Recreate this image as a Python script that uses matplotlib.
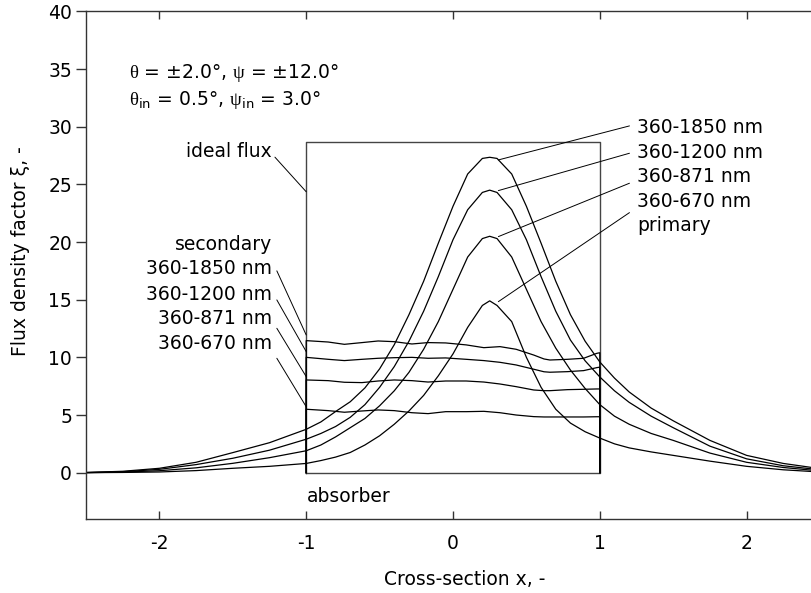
import matplotlib
matplotlib.use('Agg')
import matplotlib.pyplot as plt

# ---- data ----
x_primary = [-2.5, -2.25, -2.0, -1.75, -1.5, -1.25, -1.0, -0.9, -0.8, -0.7, -0.6, -0.5,
             -0.4, -0.3, -0.2, -0.1, 0.0, 0.1, 0.2, 0.25, 0.3, 0.4, 0.5, 0.6, 0.7, 0.8,
             0.9, 1.0, 1.1, 1.2, 1.35, 1.5, 1.75, 2.0, 2.25, 2.5]
primary_1850 = [0.02, 0.12, 0.38, 0.9, 1.74, 2.6, 3.76, 4.4, 5.3, 6.15, 7.35, 9.0,
                11.1, 13.7, 16.6, 19.9, 23.1, 25.9, 27.25, 27.35, 27.25, 25.9, 23.1, 19.9,
                16.6, 13.7, 11.4, 9.6, 8.2, 7.0, 5.6, 4.5, 2.8, 1.5, 0.8, 0.35]
primary_1200 = [0.01, 0.08, 0.29, 0.7, 1.25, 1.95, 2.9, 3.4, 4.0, 4.8, 5.9, 7.4,
                9.2, 11.4, 14.0, 17.0, 20.2, 22.8, 24.3, 24.5, 24.3, 22.8, 20.2, 17.0,
                14.0, 11.5, 9.7, 8.3, 7.1, 6.1, 4.9, 3.9, 2.3, 1.2, 0.6, 0.25]
primary_871 = [0.0, 0.05, 0.17, 0.42, 0.81, 1.3, 1.9, 2.4, 3.1, 3.9, 4.7, 5.8,
               7.1, 8.7, 10.7, 13.1, 15.9, 18.7, 20.3, 20.5, 20.3, 18.7, 15.9, 13.1,
               10.8, 8.9, 7.3, 5.9, 4.9, 4.2, 3.4, 2.8, 1.7, 0.9, 0.45, 0.15]
primary_670 = [0.0, 0.02, 0.06, 0.18, 0.38, 0.55, 0.8, 1.05, 1.35, 1.75, 2.4, 3.2,
               4.2, 5.35, 6.7, 8.4, 10.3, 12.6, 14.5, 14.9, 14.5, 13.1, 10.0, 7.4,
               5.5, 4.3, 3.55, 3.0, 2.5, 2.15, 1.8, 1.5, 1.0, 0.55, 0.25, 0.06]

x_secondary = [-1.0, -1.0, -0.85, -0.74, -0.62, -0.51, -0.4, -0.28, -0.17, -0.05, 0.09,
               0.21, 0.32, 0.43, 0.55, 0.62, 0.66, 0.78, 0.89, 0.98, 1.0, 1.0]
secondary_1850 = [0, 11.45, 11.33, 11.13, 11.28, 11.42, 11.36, 11.16, 11.28, 11.25, 11.08,
                  10.84, 10.93, 10.7, 10.2, 9.86, 9.77, 9.83, 9.92, 10.35, 10.4, 0]
secondary_1200 = [0, 10.0, 9.83, 9.72, 9.83, 9.92, 9.97, 10.0, 9.92, 9.95, 9.83,
                  9.72, 9.57, 9.34, 8.97, 8.75, 8.71, 8.76, 8.85, 9.11, 9.15, 0]
secondary_871 = [0, 8.04, 7.98, 7.84, 7.81, 7.95, 8.04, 7.98, 7.86, 7.95, 7.95,
                 7.86, 7.69, 7.46, 7.17, 7.11, 7.11, 7.2, 7.23, 7.26, 7.26, 0]
secondary_670 = [0, 5.5, 5.38, 5.24, 5.35, 5.44, 5.38, 5.2, 5.12, 5.29, 5.29,
                 5.32, 5.2, 5.0, 4.86, 4.83, 4.83, 4.83, 4.83, 4.85, 4.85, 0]

ideal_x = [-1, -1, 1, 1, -1]
ideal_y = [0, 28.65, 28.65, 0, 0]

band_labels = ["360-1850 nm", "360-1200 nm", "360-871 nm", "360-670 nm"]
x_ticks = [-2, -1, 0, 1, 2]
y_ticks = [0, 5, 10, 15, 20, 25, 30, 35, 40]

# ---- figure ----
plt.rcParams['font.family'] = ['DejaVu Sans']
plt.rcParams['mathtext.fontset'] = 'custom'
plt.rcParams['mathtext.rm'] = 'Liberation Serif'
plt.rcParams['mathtext.sf'] = 'DejaVu Sans'
FS = 13.5

W, H = 811, 593
fig = plt.figure(figsize=(W / 100, H / 100), dpi=100)
L, R, T, B = 86, 820, 11.4, 518.8
ax = fig.add_axes([L / W, 1 - B / H, (R - L) / W, (B - T) / H])

lw = 0.9
col = 'black'
ax.plot(ideal_x, ideal_y, color='#444444', lw=1.0)
for ys in [primary_1850, primary_1200, primary_871, primary_670]:
    ax.plot(x_primary, ys, color=col, lw=lw)
for ys in [secondary_1850, secondary_1200, secondary_871, secondary_670]:
    ax.plot(x_secondary, ys, color=col, lw=lw)

ax.set_xlim(-2.5, 2.5)
ax.set_ylim(-4, 40)
ax.set_xticks(x_ticks)
ax.set_xticklabels([str(v) for v in x_ticks])
ax.set_yticks(y_ticks)
ax.set_yticklabels([str(v) for v in y_ticks])

for s in ['left', 'bottom', 'top']:
    ax.spines[s].set_color('#333333')
    ax.spines[s].set_linewidth(1.0)
ax.spines['right'].set_visible(False)

ax.tick_params(axis='x', direction='in', top=True, bottom=True, length=6, width=1.0,
               pad=11, labelsize=FS, color='#333333')
ax.tick_params(axis='y', direction='out', left=True, right=False, length=7, width=1.0,
               pad=3, labelsize=FS, color='#333333')

# leader-line annotations
lead = dict(arrowstyle='-', color='black', lw=0.7, shrinkA=0, shrinkB=0)

# ideal flux
ax.text(-1.234, 27.35, "ideal flux", ha='right', va='baseline', fontsize=FS)
ax.annotate("", xy=(-1.0, 24.36), xytext=(-1.213, 27.36), arrowprops=lead)

# absorber
ax.text(-0.995, -2.51, "absorber", ha='left', va='baseline', fontsize=FS)

# secondary labels (left)
ax.text(-1.234, 19.34, "secondary", ha='right', va='baseline', fontsize=FS)
sec_base = [17.23, 15.0, 12.92, 10.73]
sec_start = [17.5, 14.98, 12.52, 9.92]
sec_end = [11.94, 10.5, 8.33, 5.72]
for lab, yb, y0, y1 in zip(band_labels, sec_base, sec_start, sec_end):
    ax.text(-1.234, yb, lab, ha='right', va='baseline', fontsize=FS)
    ax.annotate("", xy=(-1.0, y1), xytext=(-1.20, y0), arrowprops=lead)

# primary labels (right)
pri_base = [29.43, 27.31, 25.2, 23.08]
pri_start = [30.07, 27.7, 25.1, 22.55]
pri_end = [27.12, 24.46, 20.47, 14.83]
for lab, yb, y0, y1 in zip(band_labels, pri_base, pri_start, pri_end):
    ax.text(1.256, yb, lab, ha='left', va='baseline', fontsize=FS)
    ax.annotate("", xy=(0.309, y1), xytext=(1.202, y0), arrowprops=lead)
ax.text(1.256, 20.97, "primary", ha='left', va='baseline', fontsize=FS)

# parameters
ax.text(-2.206, 34.2, r"$\mathrm{\theta}$ = ±2.0°, $\mathrm{\psi}$ = ±12.0°",
        ha='left', va='baseline', fontsize=FS)
ax.text(-2.206, 31.89,
        r"$\mathrm{\theta}_{\mathsf{in}}$ = 0.5°, $\mathrm{\psi}_{\mathsf{in}}$ = 3.0°",
        ha='left', va='baseline', fontsize=FS)

# axis labels
fig.text(465 / W, 1 - 585 / H, "Cross-section x, -", ha='center', va='baseline', fontsize=FS)
fig.text(20.5 / W, 1 - 251.5 / H, "Flux density factor ξ, -", ha='center', va='center',
         rotation=90, fontsize=FS)

fig.savefig('out.png', dpi=100)
